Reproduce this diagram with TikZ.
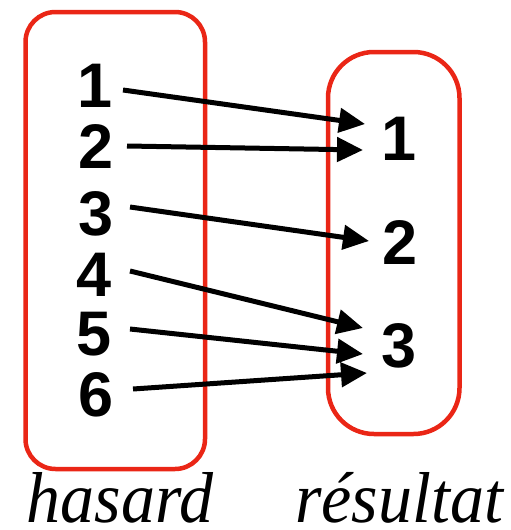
\documentclass[tikz,border=0pt]{standalone}
\usepackage{fontspec}
\setmainfont{Liberation Serif}
\newfontfamily\numfont{Liberation Sans}
\usetikzlibrary{arrows.meta}
\definecolor{boxred}{RGB}{234,38,22}
\tikzset{
  setbox/.style={draw=boxred, line width=4.5pt},
  num/.style={anchor=base, inner sep=0pt, font=\numfont\bfseries\fontsize{63}{65}\selectfont},
  lab/.style={anchor=base, inner sep=0pt, yscale=1.06, font=\itshape\fontsize{68}{72}\selectfont},
  arr/.style={line width=5pt, -{Triangle[length=26pt,width=24pt]}}
}
\begin{document}
\begin{tikzpicture}[x=1pt,y=-1pt]
\useasboundingbox (0,0) rectangle (511,530);
\draw[setbox, rounded corners=30pt] (25.5,12) rectangle (205,469);
\draw[setbox, rounded corners=46pt] (328,52) rectangle (459.5,434);
% left values
\node[num] (l1) at (95,107) {1};
\node[num] (l2) at (96,168) {2};
\node[num] (l3) at (96,235) {3};
\node[num] (l4) at (94,296) {4};
\node[num] (l5) at (94,355) {5};
\node[num] (l6) at (96,416) {6};
% right values
\node[num] (r1) at (399,160) {1};
\node[num] (r2) at (400,264) {2};
\node[num] (r3) at (399,367) {3};
% connector end points
\coordinate (s1) at (123,90);  \coordinate (e1) at (365,124);
\coordinate (s2) at (127,146); \coordinate (e2) at (363,150);
\coordinate (s3) at (130,207); \coordinate (e3) at (369,241);
\coordinate (s4) at (130,271); \coordinate (e4) at (363,328);
\coordinate (s5) at (130,329); \coordinate (e5) at (363,354);
\coordinate (s6) at (133,389); \coordinate (e6) at (367,373);
\draw[arr] (s1) -- (e1);
\draw[arr] (s2) -- (e2);
\draw[arr] (s3) -- (e3);
\draw[arr] (s4) -- (e4);
\draw[arr] (s5) -- (e5);
\draw[arr] (s6) -- (e6);
% captions
\node[lab] (h) at (120,522) {hasard};
\node[lab] (res) at (399,522) {résultat};
\end{tikzpicture}
\end{document}
